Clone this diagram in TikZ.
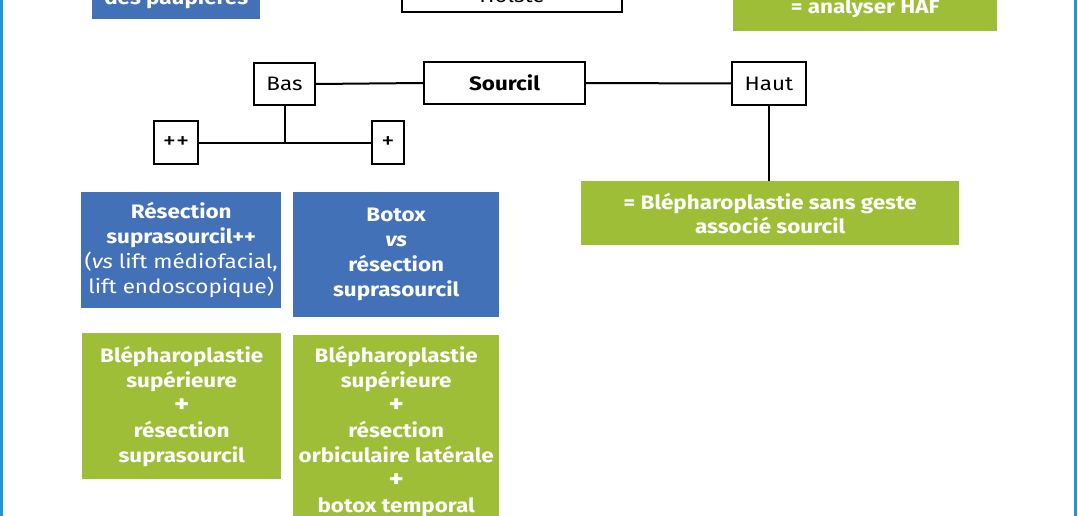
\documentclass[tikz,border=0pt]{standalone}
\usepackage{fontspec}
\setmainfont{Fira Sans}[FakeStretch=1.15]
\definecolor{bblue}{RGB}{67,113,184}
\definecolor{bgreen}{RGB}{159,190,56}
\definecolor{sideblue}{RGB}{30,150,214}
\newcommand{\bigfont}{\fontsize{19.5}{25}\selectfont}
\newcommand{\plusg}{{\fontsize{25}{25}\selectfont +}}
\tikzset{
  every node/.style={inner sep=0pt, font=\bigfont, align=center},
  wbox/.style={draw=black, line width=2pt, fill=white, text=black, anchor=north west},
  bbox/.style={fill=bblue, text=white, font=\bigfont\bfseries, anchor=north west},
  gbox/.style={fill=bgreen, text=white, font=\bigfont\bfseries, anchor=north west},
  conn/.style={draw=black, line width=2pt}
}
\begin{document}
\begin{tikzpicture}[x=1pt,y=-1pt]
\useasboundingbox (0,0) rectangle (1078,516);
\clip (0,0) rectangle (1078,516);
% side rules
\fill[sideblue] (0,0) rectangle (3,516);
\fill[sideblue] (1074,0) rectangle (1077,516);
% top partial boxes
\node[bbox, anchor=south west, minimum width=168pt, minimum height=40pt] (tblue) at (92,19) {des paupières};
\node[wbox, anchor=south west, font=\bigfont, minimum width=220pt, minimum height=34pt] (twhite) at (401,13) {Holste};
\node[gbox, anchor=south west, minimum width=264pt, minimum height=46pt] (tgreen) at (733,31) {= analyser HAF};
% tree
\node[wbox, minimum width=61pt, minimum height=42pt] (bas) at (253,62) {Bas};
\node[wbox, minimum width=161pt, minimum height=42pt, font=\bigfont\bfseries] (sourcil) at (423,61) {Sourcil};
\node[wbox, minimum width=74pt, minimum height=43pt] (haut) at (731,61) {Haut};
\node[wbox, minimum width=44pt, minimum height=43pt, font=\fontsize{23}{25}\selectfont] (pp) at (153,120) {++};
\node[wbox, minimum width=32pt, minimum height=43pt, font=\fontsize{23}{25}\selectfont] (p) at (371,120) {+};
\node[gbox, minimum width=378pt, minimum height=64pt, font=\fontsize{19.5}{24}\selectfont\bfseries] (hautg) at (581,181) {= Blépharoplastie sans geste\\associé sourcil};
\node[bbox, minimum width=200pt, minimum height=116pt] (res) at (81,192) {Résection\\suprasourcil++\\{\mdseries(\textit{vs} lift médiofacial,}\\{\mdseries lift endoscopique)}};
\node[bbox, minimum width=206pt, minimum height=125pt] (botox) at (293,192) {Botox\\\textit{vs}\\résection\\suprasourcil};
\node[gbox, minimum width=199pt, minimum height=146pt] (bleph1) at (82,333) {Blépharoplastie\\supérieure\\\plusg\\résection\\suprasourcil};
\node[gbox, minimum width=206pt, minimum height=192pt] (bleph2) at (293,335) {Blépharoplastie\\supérieure\\\plusg\\résection\\orbiculaire latérale\\\plusg\\botox temporal};
% connectors
\draw[conn] (bas.east) -- (sourcil.west);
\draw[conn] (sourcil.east) -- (haut.west);
\draw[conn] (haut.south) -- (hautg.north -| haut.south);
\draw[conn] (pp.east) -- (p.west);
\draw[conn] (bas.south) -- (bas.south |- pp.east);
\end{tikzpicture}
\end{document}
